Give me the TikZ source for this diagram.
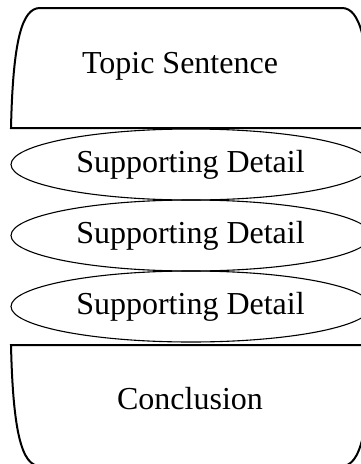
\documentclass[tikz,border=0pt]{standalone}
\usepackage{fontspec}
\setmainfont{Liberation Serif}
\begin{document}
\begin{tikzpicture}[x=1pt,y=-1pt,
  bun/.style={draw=black, line width=2pt, line join=miter},
  detail/.style={draw=black, line width=1.1pt},
  lbl/.style={font=\fontsize{32}{38}\selectfont, anchor=base, inner sep=0pt}]
\useasboundingbox (0,0) rectangle (361,464);
\clip (0,0) rectangle (361,464);
% top bun
\draw[bun] (11,128) .. controls (13,40) and (22,8) .. (40,8) -- (342,8)
  .. controls (360,8) and (369,40) .. (371,128) -- cycle;
% supporting details
\draw[detail] (191,164.5) ellipse [x radius=180, y radius=35.5];
\draw[detail] (191,235.5) ellipse [x radius=180, y radius=35.5];
\draw[detail] (191,306.5) ellipse [x radius=180, y radius=35.5];
% bottom bun
\draw[bun] (11,345) -- (371,345) .. controls (369,433) and (360,466) .. (342,466)
  -- (40,466) .. controls (22,466) and (13,433) .. cycle;
% labels
\node[lbl] (topic) at (180,73) {Topic Sentence};
\node[lbl] (d1) at (190.5,172) {Supporting Detail};
\node[lbl] (d2) at (190.5,243) {Supporting Detail};
\node[lbl] (d3) at (190.5,314) {Supporting Detail};
\node[lbl] (concl) at (190,409) {Conclusion};
\end{tikzpicture}
\end{document}
